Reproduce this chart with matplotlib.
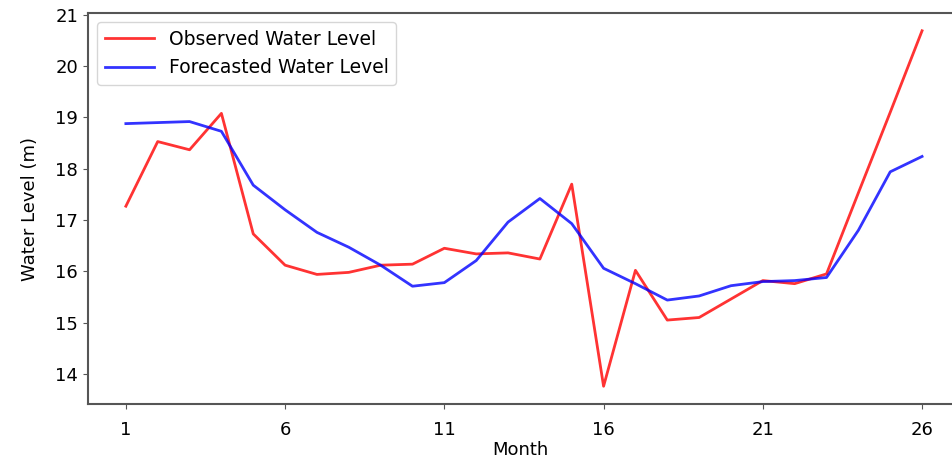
import matplotlib
matplotlib.use("Agg")
import matplotlib.pyplot as plt

months = list(range(1, 27))
observed = [17.27, 18.53, 18.37, 19.08, 16.73, 16.12, 15.94, 15.98, 16.12, 16.14,
            16.45, 16.34, 16.36, 16.24, 17.70, 13.76, 16.02, 15.05, 15.10, 15.46,
            15.82, 15.76, 15.95, 17.53, 19.10, 20.69]
forecast = [18.88, 18.90, 18.92, 18.73, 17.68, 17.20, 16.76, 16.47, 16.12, 15.71,
            15.78, 16.21, 16.96, 17.42, 16.93, 16.06, 15.76, 15.44, 15.52, 15.72,
            15.80, 15.82, 15.88, 16.80, 17.94, 18.24]
xticks = [1, 6, 11, 16, 21, 26]


def main() -> None:
    plt.rcParams["font.family"] = "DejaVu Sans"
    fig = plt.figure(figsize=(9.52, 4.61), dpi=100)
    ax = fig.add_axes([0.0924, 0.1236, 0.9076, 0.8482])

    ax.plot(months, observed, color="red", alpha=0.8, lw=2, label="Observed Water Level")
    ax.plot(months, forecast, color="blue", alpha=0.8, lw=2, label="Forecasted Water Level")

    ax.set_xlim(-0.19, 26.94)
    ax.set_xticks(xticks)
    ax.set_xlabel("Month", fontsize=13, labelpad=1)
    ax.set_ylabel("Water Level (m)", fontsize=13, labelpad=12)
    ax.tick_params(labelsize=13, color="#555555")
    ax.tick_params(axis="x", pad=9)
    for side in ["left", "bottom", "top"]:
        ax.spines[side].set_color("#555555")
        ax.spines[side].set_linewidth(1.5)
    ax.spines["right"].set_visible(False)
    ax.legend(loc="upper left", fontsize=13.5, handlelength=2.6)

    fig.savefig("out.png", dpi=100)


if __name__ == "__main__":
    main()
